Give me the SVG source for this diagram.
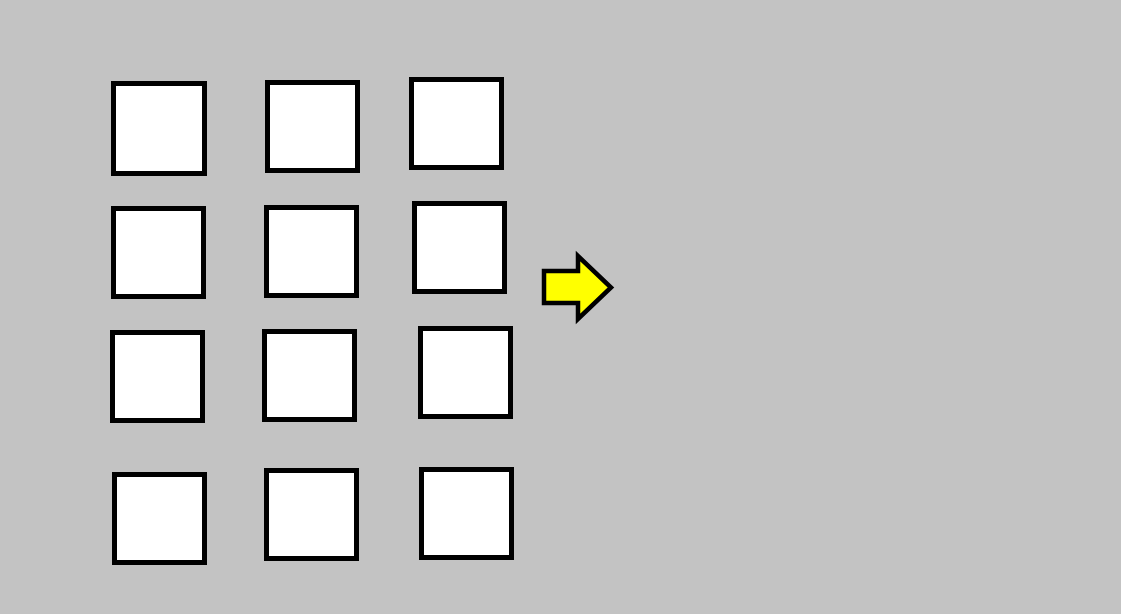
<svg xmlns="http://www.w3.org/2000/svg" width="1121" height="614" viewBox="0 0 1121 614">
<style>
.sq{fill:#ffffff;stroke:#000000;stroke-width:5}
.arr{fill:#ffff00;stroke:#000000;stroke-width:4.5;stroke-linejoin:miter}
</style>
<rect x="0" y="0" width="1121" height="614" fill="#c3c3c3"/>
<g id="sq1"><rect class="sq" x="113.5" y="83.5" width="91" height="90"/></g>
<g id="sq2"><rect class="sq" x="267.5" y="82.5" width="90" height="88"/></g>
<g id="sq3"><rect class="sq" x="411.5" y="79.5" width="90" height="88"/></g>
<g id="sq4"><rect class="sq" x="113.5" y="208.5" width="90" height="88"/></g>
<g id="sq5"><rect class="sq" x="266.5" y="207.5" width="90" height="88"/></g>
<g id="sq6"><rect class="sq" x="414.5" y="203.5" width="90" height="88"/></g>
<g id="sq7"><rect class="sq" x="112.5" y="332.5" width="90" height="88"/></g>
<g id="sq8"><rect class="sq" x="264.5" y="331.5" width="90" height="88"/></g>
<g id="sq9"><rect class="sq" x="420.5" y="328.5" width="90" height="88"/></g>
<g id="sq10"><rect class="sq" x="114.5" y="474.5" width="90" height="88"/></g>
<g id="sq11"><rect class="sq" x="266.5" y="470.5" width="90" height="88"/></g>
<g id="sq12"><rect class="sq" x="421.5" y="469.5" width="90" height="88"/></g>
<g id="arrow"><path class="arr" d="M544,271 L578,271 L578,256 L611,287.5 L578,319 L578,303 L544,303 Z"/></g>
</svg>
